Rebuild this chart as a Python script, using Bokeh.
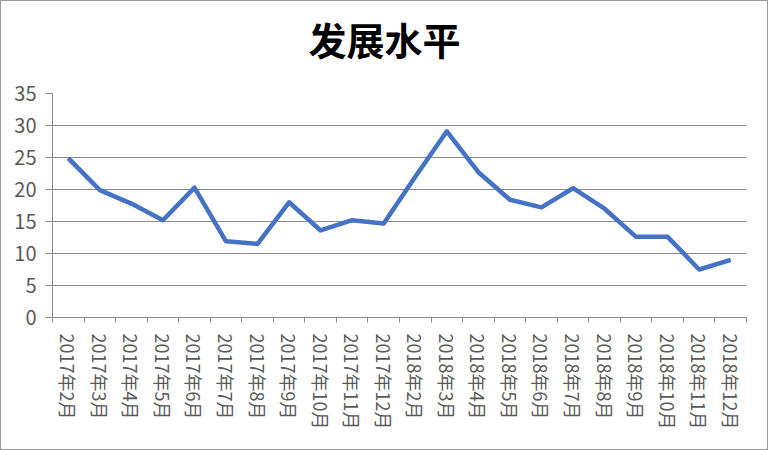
from bokeh.plotting import figure
from bokeh.models import FixedTicker, Range1d
from bokeh.embed import file_html
from bokeh.resources import INLINE

months = ["2017年2月", "2017年3月", "2017年4月", "2017年5月", "2017年6月", "2017年7月",
          "2017年8月", "2017年9月", "2017年10月", "2017年11月", "2017年12月",
          "2018年2月", "2018年3月", "2018年4月", "2018年5月", "2018年6月", "2018年7月",
          "2018年8月", "2018年9月", "2018年10月", "2018年11月", "2018年12月"]
values = [24.9, 19.9, 17.8, 15.2, 20.3, 11.9, 11.5, 18.0, 13.6, 15.2, 14.7,
          22.0, 29.1, 22.7, 18.4, 17.2, 20.2, 17.0, 12.6, 12.6, 7.5, 9.0]
y_ticks = [0, 5, 10, 15, 20, 25, 30, 35]
title_text = "发展水平"

FONT = "Noto Sans CJK SC"
TXT = "#595959"
GRID = "#8a8a8a"

n = len(months)
xs = list(range(n))

p = figure(width=768, height=450, output_backend="svg", toolbar_location=None,
           x_range=Range1d(-0.5, n - 0.5), y_range=Range1d(0, 35),
           min_border_left=51, min_border_right=23, min_border_top=92,
           min_border_bottom=134)
p.styles = {"border": "1px solid #9a9a9a", "box-sizing": "border-box"}

p.title.text = title_text
p.title.align = "left"
p.title.offset = 256
p.title.text_font = FONT
p.title.text_font_size = "38px"
p.title.text_font_style = "bold"
p.title.text_color = "#000000"
p.title.standoff = 10
p.title.padding = dict(left=0, right=0, top=0, bottom=23)

p.line(xs, values, line_color="#4472C4", line_width=4.5, line_join="round")

# x axis
p.xaxis.ticker = FixedTicker(ticks=xs, minor_ticks=[i - 0.5 for i in range(n + 1)])
p.xaxis.major_label_overrides = {i: m for i, m in enumerate(months)}
p.xaxis.major_label_orientation = "vertical"
p.xaxis.major_tick_line_color = None
p.xaxis.minor_tick_line_color = GRID
p.xaxis.minor_tick_out = 5
p.xaxis.minor_tick_in = 0
p.xaxis.axis_line_color = GRID
p.xaxis.major_label_text_font = FONT
p.xaxis.major_label_text_font_size = "18px"
p.xaxis.major_label_text_color = TXT
p.xaxis.major_label_standoff = 10

# y axis
p.yaxis.ticker = FixedTicker(ticks=y_ticks)
p.yaxis.axis_line_color = GRID
p.yaxis.major_tick_line_color = GRID
p.yaxis.major_tick_out = 7
p.yaxis.major_tick_in = 0
p.yaxis.minor_tick_line_color = None
p.yaxis.major_label_text_font = FONT
p.yaxis.major_label_text_font_size = "20px"
p.yaxis.major_label_text_color = TXT
p.yaxis.major_label_standoff = 9

p.xgrid.grid_line_color = None
p.ygrid.grid_line_color = GRID
p.ygrid.grid_line_width = 1
p.outline_line_color = None

open("out.html", "w").write(file_html(p, INLINE))
